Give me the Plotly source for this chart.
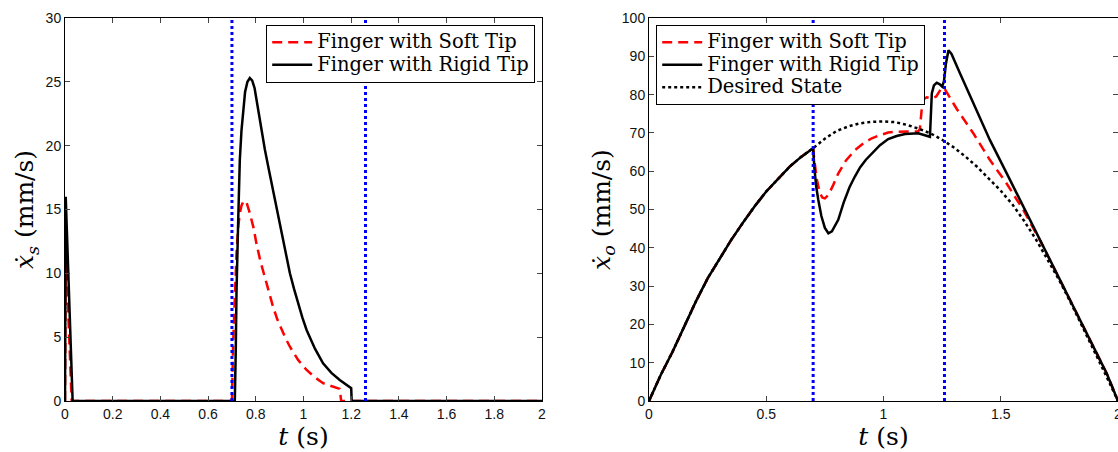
import plotly.graph_objects as go

# ---------------- Left panel: fingertip slip velocity x_s (mm/s) ----------------
t_left_soft = [0, 0.003, 0.028, 0.700, 0.705, 0.712, 0.719, 0.726, 0.733, 0.740, 0.747,
               0.754, 0.762, 0.775, 0.790, 0.803, 0.820, 0.838, 0.855, 0.872, 0.890,
               0.908, 0.925, 0.943, 0.978, 1.013, 1.048, 1.082, 1.117, 1.145, 1.152,
               1.158, 2.0]
xs_soft = [0, 12, 0, 0, 4.5, 8.4, 11.5, 13.6, 14.7, 15.3, 15.6,
           15.7, 15.5, 14.7, 13.6, 12.3, 10.9, 9.7, 8.5, 7.4, 6.4,
           5.56, 4.9, 4.25, 3.2, 2.43, 1.85, 1.39, 1.18, 1.05, 0.95,
           0, 0]

t_left_rigid = [0, 0.003, 0.032, 0.712, 0.716, 0.719, 0.726, 0.733, 0.740, 0.747, 0.755,
                0.765, 0.775, 0.785, 0.795, 0.803, 0.820, 0.838, 0.855, 0.872, 0.890,
                0.908, 0.925, 0.943, 0.960, 0.977, 0.995, 1.013, 1.048, 1.082, 1.117,
                1.152, 1.175, 1.194, 1.200, 1.202, 2.0]
xs_rigid = [0, 16, 0, 0, 4, 8.4, 14, 18.9, 21.2, 22.8, 24.2,
            25.0, 25.3, 25.1, 24.5, 23.6, 21.6, 19.7, 18.1, 16.5, 14.8,
            13.1, 11.5, 10.0, 8.8, 7.65, 6.55, 5.56, 4.1, 2.95, 2.2,
            1.64, 1.35, 1.12, 1.0, 0, 0]

# ---------------- Right panel: object velocity x_o (mm/s) ----------------
t_right_soft = [0, 0.05, 0.1, 0.15, 0.2, 0.25, 0.3, 0.35, 0.4, 0.45, 0.5, 0.55, 0.6, 0.65, 0.7,
                0.705, 0.715, 0.729, 0.74, 0.75, 0.765, 0.785, 0.807, 0.84, 0.878, 0.915,
                0.95, 0.985, 1.02, 1.056, 1.092, 1.148, 1.155, 1.16, 1.165, 1.172, 1.184,
                1.206, 1.225, 1.248, 1.26, 1.291, 1.312, 1.383, 1.454, 1.525, 1.596, 1.667,
                1.739, 1.81, 1.881, 1.952, 2.0]
xo_soft = [0, 6.8, 12.8, 19.5, 26, 32, 37, 42, 46.5, 50.8, 54.7, 58, 61.2, 63.8, 66,
           63, 58, 54.2, 53.1, 52.9, 53.8, 56.3, 59.4, 62.8, 65.5, 67.3,
           68.6, 69.4, 70.1, 70.3, 70.4, 70.4, 71, 74.5, 77.5, 78.8, 79.3,
           79.0, 79.5, 81.8, 81.6, 78.4, 76.3, 69.9, 62.9, 56.8, 49.9, 42.0,
           33.3, 24.6, 15.9, 7.2, 0]

t_right_rigid = [0, 0.05, 0.1, 0.15, 0.2, 0.25, 0.3, 0.35, 0.4, 0.45, 0.5, 0.55, 0.6, 0.65, 0.7,
                 0.705, 0.713, 0.722, 0.735, 0.75, 0.765, 0.78, 0.795, 0.807, 0.83, 0.855,
                 0.878, 0.9, 0.925, 0.95, 0.985, 1.02, 1.056, 1.092, 1.148, 1.198, 1.202,
                 1.206, 1.215, 1.227, 1.24, 1.25, 1.258, 1.266, 1.277, 1.29, 1.326, 1.383,
                 1.454, 1.525, 1.596, 1.667, 1.739, 1.81, 1.881, 1.952, 2.0]
xo_rigid = [0, 6.8, 12.8, 19.5, 26, 32, 37, 42, 46.5, 50.8, 54.7, 58, 61.2, 63.8, 66,
            61, 56, 52.5, 48.3, 45.2, 43.8, 44.3, 45.8, 47.3, 51.8, 55.8,
            58.6, 61, 63, 64.7, 66.8, 68.4, 69.2, 69.7, 69.9, 69.0, 74,
            80.3, 82.4, 83.1, 82.7, 82.1, 83.5, 88, 91.6, 90.6, 85.6, 78.0,
            68.1, 59.5, 50.7, 42.0, 33.3, 24.6, 15.9, 7.2, 0]

t_desired = [0, 0.05, 0.1, 0.15, 0.2, 0.25, 0.3, 0.35, 0.4, 0.45, 0.5, 0.55, 0.6, 0.65, 0.7,
             0.75, 0.8, 0.85, 0.9, 0.95, 1.0, 1.05, 1.1, 1.15, 1.2, 1.25, 1.3, 1.35, 1.4,
             1.45, 1.5, 1.55, 1.6, 1.65, 1.7, 1.75, 1.8, 1.85, 1.9, 1.95, 2.0]
xo_desired = [0, 6.8, 12.8, 19.5, 26, 32, 37, 42, 46.5, 50.8, 54.7, 58, 61.2, 63.8, 66,
              68.5, 70.5, 71.7, 72.5, 72.9, 73, 72.8, 72.1, 71.1, 69.9, 68.2, 66.2, 63.8, 61.1,
              58, 54.9, 51.3, 47, 42.2, 37, 31.5, 25.5, 19.3, 12.9, 6.5, 0]

# Contact-phase markers (s)
phase_times = [0.70, 1.26]

# Legend labels
label_soft = "Finger with Soft Tip"
label_rigid = "Finger with Rigid Tip"
label_desired = "Desired State"

# Tick values
left_xticks = [0, 0.2, 0.4, 0.6, 0.8, 1, 1.2, 1.4, 1.6, 1.8, 2]
left_yticks = [0, 5, 10, 15, 20, 25, 30]
right_xticks = [0, 0.5, 1, 1.5, 2]
right_yticks = [0, 10, 20, 30, 40, 50, 60, 70, 80, 90, 100]

W, H = 1118, 452
RED = "#FF0000"
BLUE = "#0000FF"
SERIF = "DejaVu Serif"
SANS = "Liberation Sans"


def leg(txt):
    # larger glyphs while the legend row pitch follows the smaller base font size
    return f'<span style="font-size:19.5px">{txt}</span>'


fig = go.Figure()

# Left panel traces
fig.add_trace(go.Scatter(x=t_left_soft, y=xs_soft, mode="lines", name=leg(label_soft),
                         line=dict(color=RED, width=2.5, dash="10px,6px"),
                         xaxis="x", yaxis="y", legend="legend"))
fig.add_trace(go.Scatter(x=t_left_rigid, y=xs_rigid, mode="lines", name=leg(label_rigid),
                         line=dict(color="black", width=2.5),
                         xaxis="x", yaxis="y", legend="legend"))
for tp in phase_times:
    fig.add_trace(go.Scatter(x=[tp, tp], y=[left_yticks[0], left_yticks[-1]], mode="lines",
                             line=dict(color=BLUE, width=3, dash="3px,3px"),
                             showlegend=False, hoverinfo="skip", xaxis="x", yaxis="y"))

# Right panel traces
fig.add_trace(go.Scatter(x=t_right_soft, y=xo_soft, mode="lines", name=leg(label_soft),
                         line=dict(color=RED, width=2.5, dash="10px,6px"),
                         xaxis="x2", yaxis="y2", legend="legend2"))
fig.add_trace(go.Scatter(x=t_right_rigid, y=xo_rigid, mode="lines", name=leg(label_rigid),
                         line=dict(color="black", width=2.5),
                         xaxis="x2", yaxis="y2", legend="legend2"))
fig.add_trace(go.Scatter(x=t_desired, y=xo_desired, mode="lines", name=leg(label_desired),
                         line=dict(color="black", width=2.5, dash="3px,3px"),
                         xaxis="x2", yaxis="y2", legend="legend2"))
for tp in phase_times:
    fig.add_trace(go.Scatter(x=[tp, tp], y=[right_yticks[0], right_yticks[-1]], mode="lines",
                             line=dict(color=BLUE, width=3, dash="3px,3px"),
                             showlegend=False, hoverinfo="skip", xaxis="x2", yaxis="y2"))

axis_common = dict(showgrid=False, zeroline=False, showline=True, linecolor="black", linewidth=1,
                   mirror="ticks", ticks="inside", ticklen=5, tickwidth=1, tickcolor="#444",
                   tickfont=dict(family=SANS, size=14, color="#111"), automargin=False,
                   ticklabeloverflow="allow")

title_font = dict(family=SERIF, size=25, color="black")

legend_common = dict(y=0.982, yanchor="top", bgcolor="white", bordercolor="black",
                     borderwidth=1.2, font=dict(family=SERIF, size=15, color="black"),
                     tracegroupgap=0, itemwidth=40)

fig.update_layout(
    width=W, height=H,
    margin=dict(l=0, r=0, t=18, b=51),
    paper_bgcolor="white", plot_bgcolor="white",
    showlegend=True,
    xaxis=dict(domain=[65 / W, 542 / W], range=[0, 2], tickvals=left_xticks,
               ticktext=[f"{v:g}" for v in left_xticks],
               title=dict(text="<i>t</i> (s)", font=title_font, standoff=4),
               anchor="y", **axis_common),
    yaxis=dict(domain=[0, 1], range=[0, 30], tickvals=left_yticks,
               title=dict(text="<i>ẋ</i><sub><i>s</i></sub> (mm/s)", font=title_font, standoff=4),
               anchor="x", **axis_common),
    xaxis2=dict(domain=[649 / W, 1.0], range=[0, 2], tickvals=right_xticks,
                ticktext=[f"{v:g}" for v in right_xticks],
                title=dict(text="<i>t</i> (s)", font=title_font, standoff=4),
                anchor="y2", **axis_common),
    yaxis2=dict(domain=[0, 1], range=[0, 100], tickvals=right_yticks,
                title=dict(text="<i>ẋ</i><sub><i>o</i></sub> (mm/s)", font=title_font, standoff=4),
                anchor="x2", **axis_common),
    legend=dict(x=535 / W, xanchor="right", **legend_common),
    legend2=dict(x=656 / W, xanchor="left", **legend_common),
)

fig.write_html("out.html", config={"displayModeBar": False},
               post_script="document.body.style.margin='0';")
